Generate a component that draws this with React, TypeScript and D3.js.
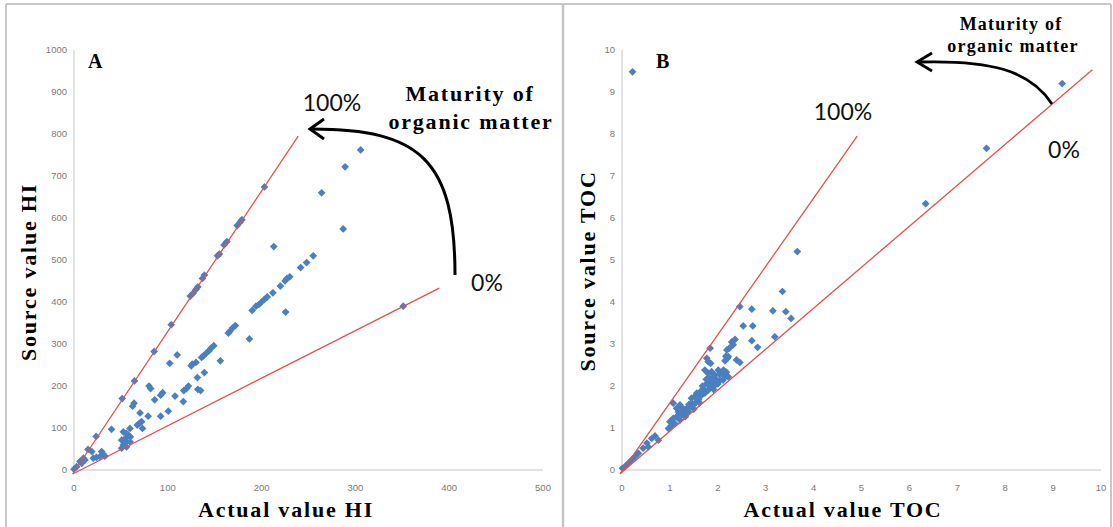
import React from "react";
import * as d3 from "d3";

// ---------- Panel A (HI) ----------
const hiActual = [
  23.6, 51.4, 64.4, 85.4, 103.7, 124, 127, 130, 132, 137, 139, 153, 155, 160, 163, 174, 177, 179, 203,
  305.6, 289, 264, 287, 213, 255, 248, 241.6, 230, 227, 225, 220, 212, 206, 203, 200, 197, 194, 190, 225.6,
  187, 172, 169, 166, 164.6, 156, 149, 146, 144, 141, 138, 136, 130, 126, 125, 110, 102, 139, 131.5, 132, 135, 351,
  80, 81.7, 94.5, 92.4, 107.7, 117, 120, 122, 116.5, 86, 64, 62.5, 70.4, 79, 100.5, 92.4, 72, 69.6, 67.5, 73, 59.7, 40,
  52.6, 56, 58, 60, 54.4, 50.8, 55.4, 59.7, 52.6, 56, 50.8,
  15, 19, 20.6, 24, 29.5, 31, 33, 27.7, 10, 11.7, 6.4, 8.2, 2.8, 0
];
const hiSource = [
  80, 170, 212, 282, 346, 414, 421, 430, 436, 456, 464, 510, 514, 536, 544, 582, 590, 596, 674,
  762, 722, 660, 574, 532, 510, 494, 482, 460, 456, 450, 438, 422, 412, 406, 400, 394, 390, 380, 376,
  312, 344, 338, 330, 326, 260, 296, 290, 284, 278, 272, 268, 256, 252, 248, 274, 254, 232, 220, 192, 189, 390,
  200, 194, 184, 178, 176, 189, 194, 200, 163, 167, 159, 152, 136, 128, 140, 128, 115, 111, 107, 99, 99, 97,
  91, 87, 83, 79, 75, 71, 67, 67, 60, 55, 52,
  49, 44, 28, 30, 44, 38, 33, 32, 28, 24, 20, 16, 8, 2
];
const hiXTicks = [0, 100, 200, 300, 400, 500];
const hiYTicks = [0, 100, 200, 300, 400, 500, 600, 700, 800, 900, 1000];
// reference lines: [x0, y0, x1, y1]
const hiLine100 = [-1.4, -9.5, 239, 795];
const hiLine0 = [-1.4, -9.5, 389.4, 433];

// ---------- Panel B (TOC) ----------
const tocActual = [
  0.22, 9.19, 7.61, 6.34, 3.66, 3.35, 2.46, 2.71, 3.15, 3.42, 3.53, 2.53, 2.73, 3.19, 2.71, 2.83,
  2.29, 2.36, 2.32, 2.24, 2.19, 1.84, 2.17, 2.2, 2.15, 2.39, 2.46, 1.77, 1.8, 1.85, 2.22,
  1.73, 1.8, 1.87, 1.94, 2.01, 2.08, 2.15, 1.98, 1.87, 1.77, 1.84, 1.7, 1.63, 1.73, 1.8, 1.94, 2.05, 2.11, 2.22,
  1.56, 1.52, 1.45, 2.12, 2.18, 1.6, 1.55, 1.62, 1.45, 1.5, 2.0,
  1.9, 1.95, 2.03, 1.68, 1.76, 1.66, 1.91, 1.82, 1.58, 1.4, 1.3, 1.18, 1.24, 1.34,
  1.07, 1.14, 1.21, 1.28, 1.35, 1.42, 1.49, 1.38, 1.25, 1.14, 1.07, 1.0, 1.04, 0.97, 1.1, 1.21, 1.32,
  0.69, 0.62, 0.76, 0.52, 0.55, 0.44, 0.34, 0.27, 0.2, 0.13, 0.06, 0.01
];
const tocSource = [
  9.48, 9.2, 7.66, 6.34, 5.2, 4.25, 3.89, 3.83, 3.79, 3.77, 3.61, 3.43, 3.43, 3.17, 3.08, 2.92,
  3.05, 3.11, 2.98, 2.9, 2.86, 2.9, 2.71, 2.66, 2.6, 2.62, 2.56, 2.66, 2.58, 2.54, 2.7,
  2.38, 2.3, 2.34, 2.26, 2.38, 2.3, 2.22, 2.14, 2.1, 2.06, 1.98, 1.94, 1.86, 1.83, 1.9, 2.02, 2.14, 2.14, 2.22,
  1.83, 1.75, 1.71, 2.38, 2.33, 1.68, 1.62, 1.6, 1.6, 1.45, 2.05,
  2.2, 2.12, 2.28, 2.0, 2.16, 1.78, 1.92, 2.2, 1.74, 1.56, 1.4, 1.38, 1.5, 1.36,
  1.59, 1.47, 1.55, 1.43, 1.47, 1.51, 1.55, 1.39, 1.31, 1.27, 1.23, 1.15, 1.07, 0.99, 1.11, 1.19, 1.27,
  0.81, 0.75, 0.71, 0.64, 0.55, 0.52, 0.4, 0.32, 0.24, 0.16, 0.08, 0.04
];
const tocXTicks = [0, 1, 2, 3, 4, 5, 6, 7, 8, 9, 10];
const tocYTicks = [0, 1, 2, 3, 4, 5, 6, 7, 8, 9, 10];
const tocLine100 = [-0.04, -0.09, 4.91, 7.95];
const tocLine0 = [-0.04, -0.09, 9.82, 9.53];

const BLUE = "#4a7fc0";
const RED = "#e2504c";
const AXIS = "#d9d9d9";
const SERIF = "'Liberation Serif', 'Times New Roman', serif";
const SANS = "'Liberation Sans', Arial, sans-serif";
const CAL = "Lato, 'Open Sans', sans-serif";

type PanelProps = {
  xs: number[];
  ys: number[];
  xTicks: number[];
  yTicks: number[];
  l100: number[];
  l0: number[];
  xRange: [number, number];
  xDomain: [number, number];
  yDomain: [number, number];
};

function Panel({ xs, ys, xTicks, yTicks, l100, l0, xRange, xDomain, yDomain }: PanelProps) {
  const x = d3.scaleLinear().domain(xDomain).range(xRange);
  const y = d3.scaleLinear().domain(yDomain).range([470, 50]);
  const diamond = d3.symbol().type(d3.symbolSquare).size(30)();
  const line = d3.line<[number, number]>().x((d) => x(d[0])).y((d) => y(d[1]));
  return (
    <g>
      <line x1={x(xDomain[0])} x2={x(xDomain[1])} y1={y(0)} y2={y(0)} stroke={AXIS} strokeWidth={1.5} />
      <line x1={x(0)} x2={x(0)} y1={y(0)} y2={y(yDomain[1])} stroke={AXIS} strokeWidth={1.5} />
      {xTicks.map((t) => (
        <text key={"x" + t} x={x(t)} y={491} textAnchor="middle" fontFamily={SANS} fontSize={9.5} fill="#7a7a7a">
          {t}
        </text>
      ))}
      {yTicks.map((t) => (
        <text key={"y" + t} x={x(0) - 7} y={y(t) + 3} textAnchor="end" fontFamily={SANS} fontSize={9.5} fill="#7a7a7a">
          {t}
        </text>
      ))}
      {xs.map((v, i) => (
        <path key={i} d={diamond!} transform={`translate(${x(v)},${y(ys[i])}) rotate(45)`} fill={BLUE} />
      ))}
      <path d={line([[l100[0], l100[1]], [l100[2], l100[3]]])!} stroke={RED} strokeWidth={1.3} fill="none" />
      <path d={line([[l0[0], l0[1]], [l0[2], l0[3]]])!} stroke={RED} strokeWidth={1.3} fill="none" />
    </g>
  );
}

export default function App() {
  return (
    <svg width={1113} height={527} style={{ position: "absolute", left: 0, top: 0, background: "#fff" }}>
      <rect x={0} y={0} width={1113} height={527} fill="#fff" />
      {/* frame */}
      <line x1={6} x2={6} y1={4} y2={527} stroke="#c8c8c8" strokeWidth={2} />
      <line x1={6} x2={1111} y1={4} y2={4} stroke="#c8c8c8" strokeWidth={2} />
      <line x1={563} x2={563} y1={4} y2={527} stroke="#c4c4c4" strokeWidth={2.5} />
      <line x1={1111} x2={1111} y1={4} y2={527} stroke="#c8c8c8" strokeWidth={2} />

      <Panel xs={hiActual} ys={hiSource} xTicks={hiXTicks} yTicks={hiYTicks} l100={hiLine100} l0={hiLine0}
        xRange={[74, 543]} xDomain={[0, 500]} yDomain={[0, 1000]} />
      <Panel xs={tocActual} ys={tocSource} xTicks={tocXTicks} yTicks={tocYTicks} l100={tocLine100} l0={tocLine0}
        xRange={[622, 1101]} xDomain={[0, 10]} yDomain={[0, 10]} />

      {/* Panel A text */}
      <text x={88} y={68} fontFamily={SERIF} fontWeight="bold" fontSize={20}>A</text>
      <text x={286} y={517} textAnchor="middle" fontFamily={SERIF} fontWeight="bold" fontSize={22} letterSpacing={1.8}>
        Actual value HI
      </text>
      <text transform="translate(36,272) rotate(-90)" textAnchor="middle" fontFamily={SERIF} fontWeight="bold" fontSize={22} letterSpacing={1.8}>
        Source value HI
      </text>
      <text x={332} y={111} textAnchor="middle" fontFamily={CAL} fontSize={23} fill="#111">100%</text>
      <text x={487} y={291} textAnchor="middle" fontFamily={CAL} fontSize={23} fill="#111">0%</text>
      <text x={470} y={101} textAnchor="middle" fontFamily={SERIF} fontWeight="bold" fontSize={22} letterSpacing={1.8}>
        Maturity of
      </text>
      <text x={471} y={129} textAnchor="middle" fontFamily={SERIF} fontWeight="bold" fontSize={22} letterSpacing={1.8}>
        organic matter
      </text>
      <path d="M455,275 C455,160 420,129 312,129" stroke="#000" strokeWidth={3} fill="none" />
      <path d="M324,119 L310,129 L324,139" stroke="#000" strokeWidth={3} fill="none" />

      {/* Panel B text */}
      <text x={656} y={68} fontFamily={SERIF} fontWeight="bold" fontSize={20}>B</text>
      <text x={843} y={517} textAnchor="middle" fontFamily={SERIF} fontWeight="bold" fontSize={22} letterSpacing={1.8}>
        Actual value TOC
      </text>
      <text transform="translate(595,271) rotate(-90)" textAnchor="middle" fontFamily={SERIF} fontWeight="bold" fontSize={22} letterSpacing={1.8}>
        Source value TOC
      </text>
      <text x={843} y={120} textAnchor="middle" fontFamily={CAL} fontSize={23} fill="#111">100%</text>
      <text x={1064} y={158} textAnchor="middle" fontFamily={CAL} fontSize={23} fill="#111">0%</text>
      <text x={1011} y={30} textAnchor="middle" fontFamily={SERIF} fontWeight="bold" fontSize={18} letterSpacing={1.2}>
        Maturity of
      </text>
      <text x={1013} y={52} textAnchor="middle" fontFamily={SERIF} fontWeight="bold" fontSize={18} letterSpacing={1.2}>
        organic matter
      </text>
      <path d="M1052,104 C1030,70 990,60 919,62" stroke="#000" strokeWidth={2.8} fill="none" />
      <path d="M932,53 L917,62 L932,71" stroke="#000" strokeWidth={2.8} fill="none" />
    </svg>
  );
}
